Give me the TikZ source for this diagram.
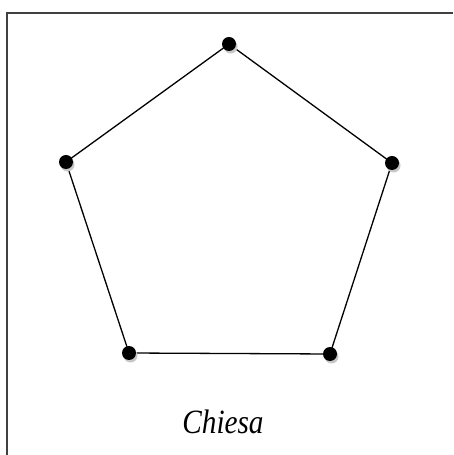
\documentclass[tikz,border=0pt]{standalone}
\usepackage{fontspec}
\setmainfont{Liberation Serif}
\tikzset{
    vertex/.style={circle, fill=black, inner sep=0pt, minimum size=14pt},
    vshadow/.style={circle, fill=black!22, inner sep=0pt, minimum size=14pt},
    edge/.style={line width=1.3pt, black}
}
\begin{document}
\begin{tikzpicture}[x=1pt, y=1pt]
    % Page size
    \useasboundingbox (0, 0) rectangle (453, 455);
    \fill[white] (0, 0) rectangle (453, 455);
    
    % Frame (top and left only)
    \draw[line width=1.6pt, black!75] (7, 0) -- (7, 442) -- (453, 442);
    
    % Corners of the pentagon
    \coordinate (t) at (229, 411);
    \coordinate (l) at (66, 293);
    \coordinate (r) at (392, 292);
    \coordinate (bl) at (129, 102);
    \coordinate (br) at (330, 101);
    
    % Sides
    \draw[edge] (t) -- (r) -- (br) -- (bl) -- (l) -- cycle;
    
    % Dots with a soft shadow
    \foreach \p in {t, l, r, bl, br} {
        \node[vshadow] at ([shift={(1.5,-2.5)}]\p) {};
        \node[vertex] (\p dot) at (\p) {};
    }
    
    % Name
    \node[font=\itshape\fontsize{34}{40}\selectfont] (name) at (223, 33) {\scalebox{0.86}[1]{Chiesa}};
\end{tikzpicture}
\end{document}
